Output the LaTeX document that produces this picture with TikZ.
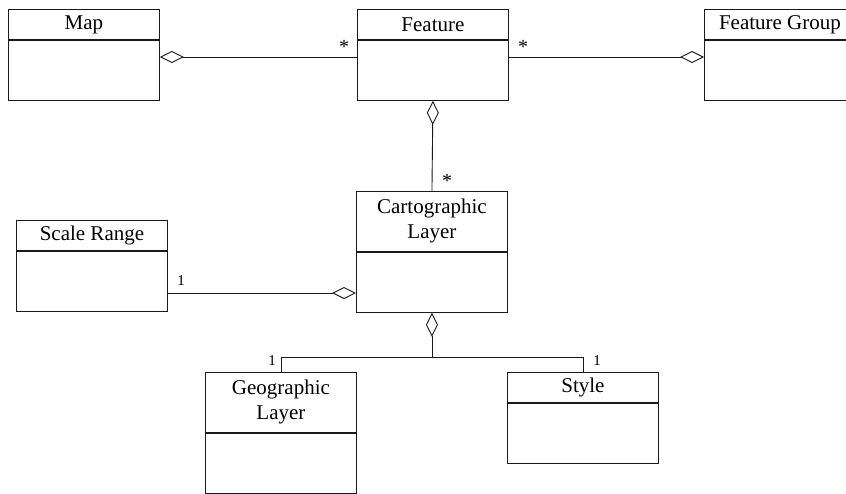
\documentclass[tikz,border=0pt]{standalone}
\usepackage{fontspec}
\setmainfont{Liberation Serif}
\usetikzlibrary{arrows.meta,calc,positioning}
\definecolor{UmlLine}{HTML}{1A1A1A}

\begin{document}
\begin{tikzpicture}[x=1pt,y=-1pt,
    classhead/.style={draw=UmlLine,line width=0.9pt,anchor=north west,
      minimum width=151pt,minimum height=30pt,inner sep=0pt,align=center,
      font=\fontsize{21}{25}\selectfont},
    classbody/.style={draw=UmlLine,line width=0.9pt,anchor=north,
      minimum width=151pt,minimum height=60pt,inner sep=0pt},
    aggr/.style={draw=UmlLine,line width=0.9pt,
      {Diamond[open,length=24pt,width=12pt]}-},
    assoc/.style={draw=UmlLine,line width=0.9pt},
    star/.style={anchor=base,inner sep=0pt,font=\fontsize{20}{22}\selectfont},
    one/.style={anchor=base,inner sep=0pt,font=\fontsize{15}{18}\selectfont}]
        \useasboundingbox (0,0) rectangle (846,493);

        % classes
        \node[classhead] (map) at (8,9) {Map};
        \node[classbody] (mapb) at (map.south) {};
        \node[classhead] (feat) at (357,9) {Feature};
        \node[classbody] (featb) at (feat.south) {};
        \node[classhead] (fgroup) at (704,9) {Feature Group};
        \node[classbody] (fgroupb) at (fgroup.south) {};
        \node[classhead] (scale) at (16,220) {Scale Range};
        \node[classbody] (scaleb) at (scale.south) {};
        \node[classhead,minimum height=60pt] (cart) at (356,191)
          {Cartographic\\Layer};
        \node[classbody] (cartb) at (cart.south) {};
        \node[classhead,minimum height=60pt] (geo) at (205,372)
          {Geographic\\Layer};
        \node[classbody] (geob) at (geo.south) {};
        \node[classhead] (style) at (507,372) {Style};
        \node[classbody] (styleb) at (style.south) {};

        % aggregations
        \draw[aggr] (mapb.east |- 0,57) -- (featb.west |- 0,57);
        \draw[aggr] (fgroupb.west |- 0,57) -- (featb.east |- 0,57);
        \draw[aggr] (featb.south) -- (cart.north);
        \draw[aggr] (cartb.west |- 0,293) -- (scaleb.east |- 0,293);
        \coordinate (fork) at (cartb.south |- 0,357);
        \draw[aggr] (cartb.south) -- (fork);
        \draw[assoc] (fork) -| (geo.north);
        \draw[assoc] (fork) -| (style.north);

        % multiplicities
        \node[star] (mfl) at (344,53) {*};
        \node[star] (mfr) at (523,53) {*};
        \node[star] (mcart) at (447,187) {*};
        \node[one] (mscale) at (181,285) {1};
        \node[one] (mgeo) at (272,365) {1};
        \node[one] (mstyle) at (597,365) {1};
      \end{tikzpicture}
\end{document}
